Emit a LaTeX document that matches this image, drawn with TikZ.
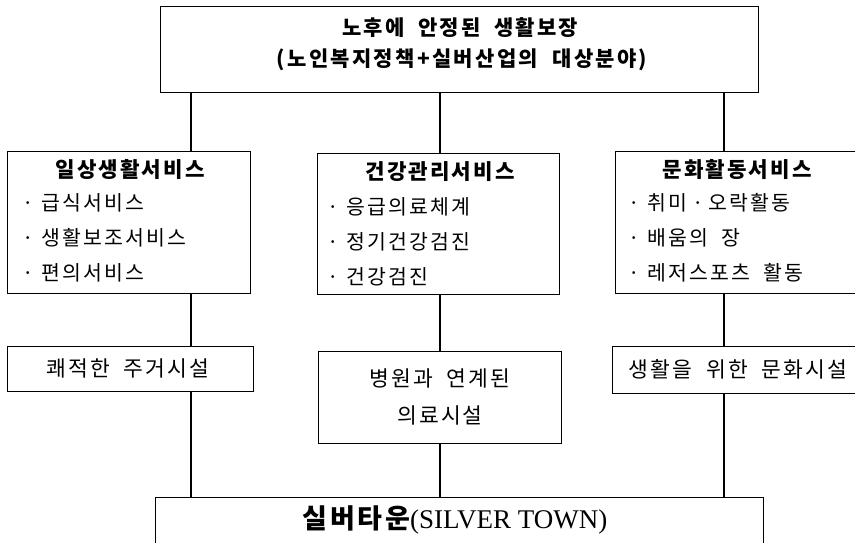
\documentclass[tikz,border=0pt]{standalone}
\usepackage{fontspec}
\setmainfont{Liberation Serif}
\newfontfamily\kr[LetterSpace=10,WordSpace=2]{Noto Sans CJK KR}
\newcommand{\dt}{·\hspace{8pt}}
\begin{document}
\begin{tikzpicture}[x=1pt,y=-1pt,
  box/.style={draw, line width=1.1pt, inner sep=0pt, anchor=north west},
  conn/.style={line width=1.1pt},
  ttl/.style={font=\kr\bfseries\fontsize{21.2}{21.2}\selectfont, inner sep=0pt},
  itm/.style={font=\kr\fontsize{20.5}{20.5}\selectfont, inner sep=0pt, anchor=west},
  fac/.style={font=\kr\fontsize{21.5}{21.5}\selectfont, inner sep=0pt}]
\useasboundingbox (0,0) rectangle (855,543);
\clip (0,0) rectangle (855,543);
\fill[white] (0,0) rectangle (855,543);
% boxes
\node[box, minimum width=598pt, minimum height=86pt] (T) at (160,6) {};
\node[box, minimum width=243pt, minimum height=142pt] (A) at (7,151) {};
\node[box, minimum width=242pt, minimum height=141pt] (B) at (317,153) {};
\node[box, minimum width=260pt, minimum height=142pt] (C) at (615,151) {};
\node[box, minimum width=246pt, minimum height=45pt] (D) at (7,346) {};
\node[box, minimum width=243pt, minimum height=92pt] (E) at (318,351) {};
\node[box, minimum width=260pt, minimum height=47pt] (F) at (612,346) {};
\node[box, minimum width=608pt, minimum height=70pt] (G) at (155,497) {};
% texts
\node[font=\kr\bfseries\fontsize{21}{21}\selectfont, inner sep=0pt] (t1) at (460,28) {노후에 안정된 생활보장};
\node[font=\kr\bfseries\fontsize{21}{21}\selectfont\addfontfeatures{LetterSpace=11}, inner sep=0pt] (t2) at (462,60) {(노인복지정책+실버산업의 대상분야)};
\node[ttl] (a0) at (130,170) {일상생활서비스};
\node[itm] (a1) at (22,203) {\dt 급식서비스};
\node[itm] (a2) at (22,238) {\dt 생활보조서비스};
\node[itm] (a3) at (22,273) {\dt 편의서비스};
\node[itm] (b1) at (327,207) {\dt 응급의료체계};
\node[ttl] (b0) at (440,172) {건강관리서비스};
\node[itm] (b2) at (327,242) {\dt 정기건강검진};
\node[itm] (b3) at (327,277) {\dt 건강검진};
\node[ttl] (c0) at (737,170) {문화활동서비스};
\node[itm] (c1) at (628,203) {\dt 취미\hspace{5pt}·\hspace{5pt}오락활동};
\node[itm] (c2) at (628,238) {\dt 배움의 장};
\node[itm] (c3) at (628,273) {\dt 레저스포츠 활동};
\node[fac] (d0) at (128,368) {쾌적한 주거시설};
\node[fac] (e1) at (440,378) {병원과 연계된};
\node[fac] (e2) at (440,415) {의료시설};
\node[fac] (f0) at (738,369) {생활을 위한 문화시설};
\node[inner sep=0pt, font=\fontsize{27}{27}\selectfont] (g0) at (455,520) {{\kr\bfseries 실버타운}(SILVER TOWN)};
% connector columns
\coordinate (x1) at (191,0);
\coordinate (x2) at (440,0);
\coordinate (x3) at (724,0);
\draw[conn] (T.south -| x1) -- (A.north -| x1);
\draw[conn] (T.south -| x2) -- (B.north -| x2);
\draw[conn] (T.south -| x3) -- (C.north -| x3);
\draw[conn] (A.south -| x1) -- (D.north -| x1);
\draw[conn] (B.south -| x2) -- (E.north -| x2);
\draw[conn] (C.south -| x3) -- (F.north -| x3);
\draw[conn] (D.south -| x1) -- (G.north -| x1);
\draw[conn] (E.south -| x2) -- (G.north -| x2);
\draw[conn] (F.south -| x3) -- (G.north -| x3);
\end{tikzpicture}
\end{document}
